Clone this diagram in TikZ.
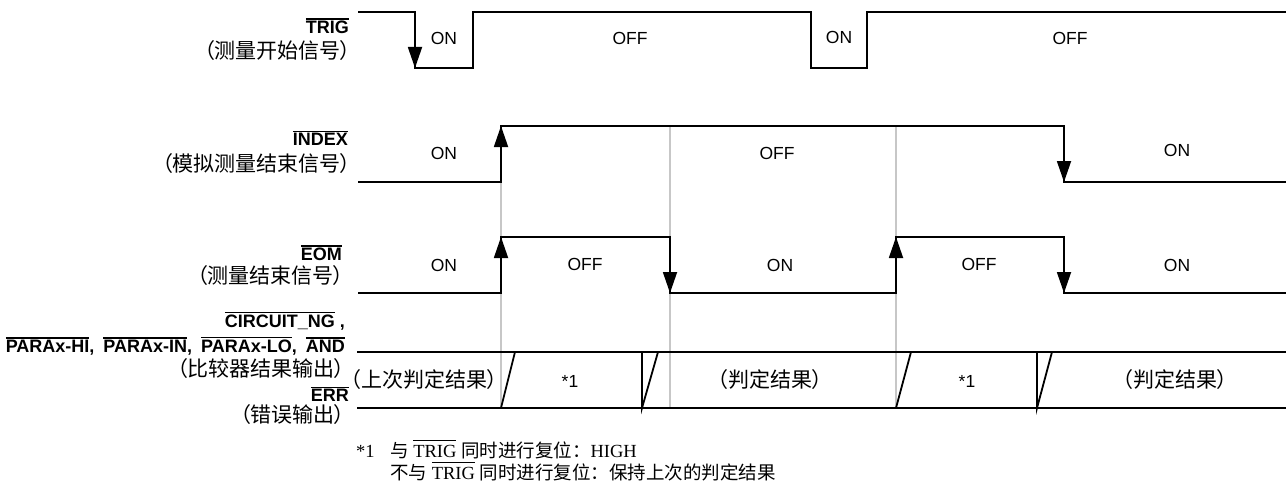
\documentclass[tikz,border=0pt]{standalone}
\usepackage{fontspec}
\setmainfont{Liberation Sans}
\newfontfamily\cjk{Noto Sans CJK SC}[RawFeature=+palt]
\newfontfamily\cjkf{Noto Sans CJK SC}
\newfontfamily\serf{Liberation Serif}
\usetikzlibrary{arrows.meta}
\newcommand\ovl[1]{\leavevmode\vbox{\hrule height 1.3pt\kern 1.3pt\hbox{#1}}}
\newcommand\ovls[1]{\leavevmode\vbox{\hrule height 0.9pt\kern 3.5pt\hbox{#1}}}
\begin{document}
\begin{tikzpicture}[x=1pt,y=-1pt,
  wave/.style={line width=1.8pt, line join=miter},
  edgearrow/.style={line width=1.8pt, -{Triangle[length=21pt,width=14pt]}},
  guide/.style={line width=1.2pt, draw=black!22},
  lvl/.style={font=\fontsize{17.5}{20}\selectfont, inner sep=0pt},
  sig/.style={font=\bfseries\fontsize{18}{21}\selectfont, anchor=east, inner sep=0pt},
  sigcn/.style={font=\cjk\fontsize{21}{24}\selectfont, anchor=east, inner sep=0pt},
  bandcn/.style={font=\cjk\fontsize{21}{24}\selectfont, inner sep=0pt},
  note/.style={font=\serf\fontsize{18.5}{22}\selectfont, inner sep=0pt, anchor=base west}]
\fill[white] (0,0) rectangle (1287,495);
\useasboundingbox (0,0) rectangle (1287,495);

% guide lines
\draw[guide] (501,126) -- (501,408);
\draw[guide] (670,126) -- (670,408);
\draw[guide] (896,126) -- (896,408);

% signal labels
\node[sig] (trig) at (349,26) {\ovl{TRIG}};
\node[sigcn] (trigcn) at (351,51) {（测量开始信号）};
\node[sig] (index) at (348,138) {\ovl{INDEX}};
\node[sigcn] (indexcn) at (351,164) {（模拟测量结束信号）};
\node[sig] (eom) at (342,253) {\ovl{EOM}};
\node[sigcn] (eomcn) at (344,276) {（测量结束信号）};
\node[sig] (circ) at (345,321) {\ovl{CIRCUIT\_NG} ,};
\node[sig] (para) at (345,346) {\ovl{PARAx-HI},\hspace{9pt}\ovl{PARAx-IN},\hspace{9pt}\ovl{PARAx-LO},\hspace{9pt}\ovl{AND}};
\node[sigcn] (cmpcn) at (345,369) {（比较器结果输出）};
\node[sig] (err) at (349,394) {\ovl{ERR}};
\node[sigcn] (errcn) at (345,415) {（错误输出）};

% TRIG
\draw[wave] (358,12) -- (415,12) -- (415,68) -- (473,68) -- (473,12) -- (811,12) -- (811,68) -- (867,68) -- (867,12) -- (1286,12);
\draw[edgearrow] (415,12) -- (415,68);
\node[lvl] (t1) at (444,38) {ON};
\node[lvl] (t2) at (630,38) {OFF};
\node[lvl] (t3) at (839,37) {ON};
\node[lvl] (t4) at (1070,38) {OFF};

% INDEX
\draw[wave] (358,182) -- (501,182) -- (501,126) -- (1064,126) -- (1064,182) -- (1286,182);
\draw[edgearrow] (501,182) -- (501,126);
\draw[edgearrow] (1064,126) -- (1064,182);
\node[lvl] (i1) at (444,153) {ON};
\node[lvl] (i2) at (777,153) {OFF};
\node[lvl] (i3) at (1177,150) {ON};

% EOM
\draw[wave] (358,293) -- (501,293) -- (501,237) -- (670,237) -- (670,293) -- (896,293) -- (896,237) -- (1064,237) -- (1064,293) -- (1286,293);
\draw[edgearrow] (501,293) -- (501,237);
\draw[edgearrow] (670,237) -- (670,293);
\draw[edgearrow] (896,293) -- (896,237);
\draw[edgearrow] (1064,237) -- (1064,293);
\node[lvl] (e1) at (444,265) {ON};
\node[lvl] (e2) at (585,264) {OFF};
\node[lvl] (e3) at (780,265) {ON};
\node[lvl] (e4) at (979,264) {OFF};
\node[lvl] (e5) at (1177,265) {ON};

% comparator / ERR band
\draw[wave] (357,352) -- (1286,352);
\draw[wave] (357,408) -- (1286,408);
\draw[wave] (501,408) -- (515,352);
\draw[wave] (642,352) -- (642,408) -- (658,352);
\draw[wave] (896,408) -- (911,352);
\draw[wave] (1037,352) -- (1037,408) -- (1052,352);
\node[bandcn] (b1) at (424,380) {（上次判定结果）};
\node[lvl] (b2) at (570,381) {*1};
\node[bandcn] (b3) at (770,380) {（判定结果）};
\node[lvl] (b4) at (967,381) {*1};
\node[bandcn] (b5) at (1175,380) {（判定结果）};

% footnote
\node[note] (n0) at (356,457) {*1};
\node[note] (n1) at (390,457) {{\cjkf 与} \ovls{TRIG} {\cjkf 同时进行复位：}HIGH};
\node[note] (n2) at (390,479) {{\cjkf 不与} \ovls{TRIG} {\cjkf 同时进行复位：保持上次的判定结果}};
\end{tikzpicture}
\end{document}
